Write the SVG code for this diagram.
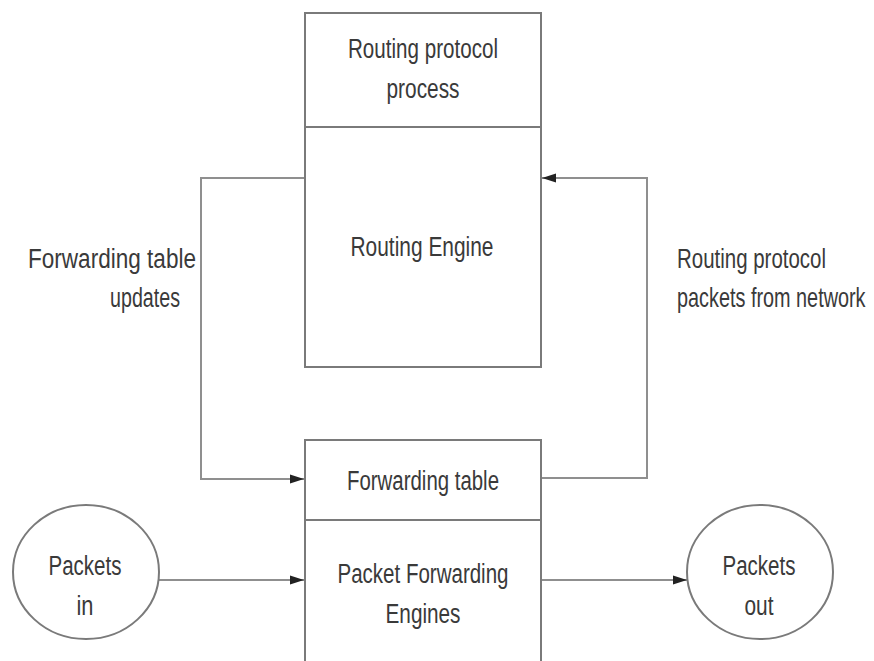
<svg xmlns="http://www.w3.org/2000/svg" width="874" height="661" viewBox="0 0 874 661">
  <defs>
    <style>
      .box { fill: #ffffff; stroke: #7a7a7a; stroke-width: 2; }
      .wire { fill: none; stroke: #8f8f8f; stroke-width: 2; }
      .lbl { font-family: "Liberation Sans", Arial, sans-serif; font-size: 27px; fill: #3a3a3a; }
      .mid { text-anchor: middle; }
    </style>
    <marker id="arrow" viewBox="0 0 14 10" refX="14" refY="5" markerWidth="14" markerHeight="10" markerUnits="userSpaceOnUse" orient="auto">
      <path d="M0,0.5 L14,5 L0,9.5 Z" fill="#222"/>
    </marker>
  </defs>
  <rect width="874" height="661" fill="#ffffff"/>

  <!-- connectors -->
  <g id="connectors">
    <path class="wire" d="M305,178 H201 V479 H304" marker-end="url(#arrow)"/>
    <path class="wire" d="M541,478 H647 V178 H542" marker-end="url(#arrow)"/>
    <path class="wire" d="M159,580 H304" marker-end="url(#arrow)"/>
    <path class="wire" d="M541,580 H687" marker-end="url(#arrow)"/>
  </g>

  <!-- routing engine with its routing protocol process -->
  <g id="routing-engine">
    <rect class="box" x="305" y="13" width="236" height="354"/>
    <line class="box" x1="305" y1="127" x2="541" y2="127"/>
    <text class="lbl mid" x="423" y="58" textLength="150" lengthAdjust="spacingAndGlyphs">Routing protocol</text>
    <text class="lbl mid" x="423" y="98" textLength="73" lengthAdjust="spacingAndGlyphs">process</text>
    <text class="lbl mid" x="422" y="256" textLength="143" lengthAdjust="spacingAndGlyphs">Routing Engine</text>
  </g>

  <!-- packet forwarding engines with forwarding table -->
  <g id="forwarding">
    <rect class="box" x="305" y="440" width="236" height="240"/>
    <line class="box" x1="305" y1="520" x2="541" y2="520"/>
    <text class="lbl mid" x="423" y="490" textLength="152" lengthAdjust="spacingAndGlyphs">Forwarding table</text>
    <text class="lbl mid" x="423" y="583" textLength="171" lengthAdjust="spacingAndGlyphs">Packet Forwarding</text>
    <text class="lbl mid" x="423" y="623" textLength="75" lengthAdjust="spacingAndGlyphs">Engines</text>
  </g>

  <g id="label-updates">
    <text class="lbl" x="28" y="268" textLength="168" lengthAdjust="spacingAndGlyphs">Forwarding table</text>
    <text class="lbl" x="110" y="307" textLength="70" lengthAdjust="spacingAndGlyphs">updates</text>
  </g>

  <g id="label-protocol-packets">
    <text class="lbl" x="677" y="268" textLength="149" lengthAdjust="spacingAndGlyphs">Routing protocol</text>
    <!-- condensed horizontally so the line stays inside the right edge -->
    <text class="lbl" transform="translate(677,307) scale(0.735,1)">packets from network</text>
  </g>

  <g id="packets-in">
    <ellipse class="box" cx="86" cy="572" rx="73" ry="67"/>
    <text class="lbl mid" x="85" y="575" textLength="73" lengthAdjust="spacingAndGlyphs">Packets</text>
    <text class="lbl mid" x="85" y="615" textLength="17" lengthAdjust="spacingAndGlyphs">in</text>
  </g>

  <g id="packets-out">
    <ellipse class="box" cx="760" cy="572" rx="73" ry="67"/>
    <text class="lbl mid" x="759" y="575" textLength="73" lengthAdjust="spacingAndGlyphs">Packets</text>
    <text class="lbl mid" x="759" y="615" textLength="29" lengthAdjust="spacingAndGlyphs">out</text>
  </g>
</svg>
